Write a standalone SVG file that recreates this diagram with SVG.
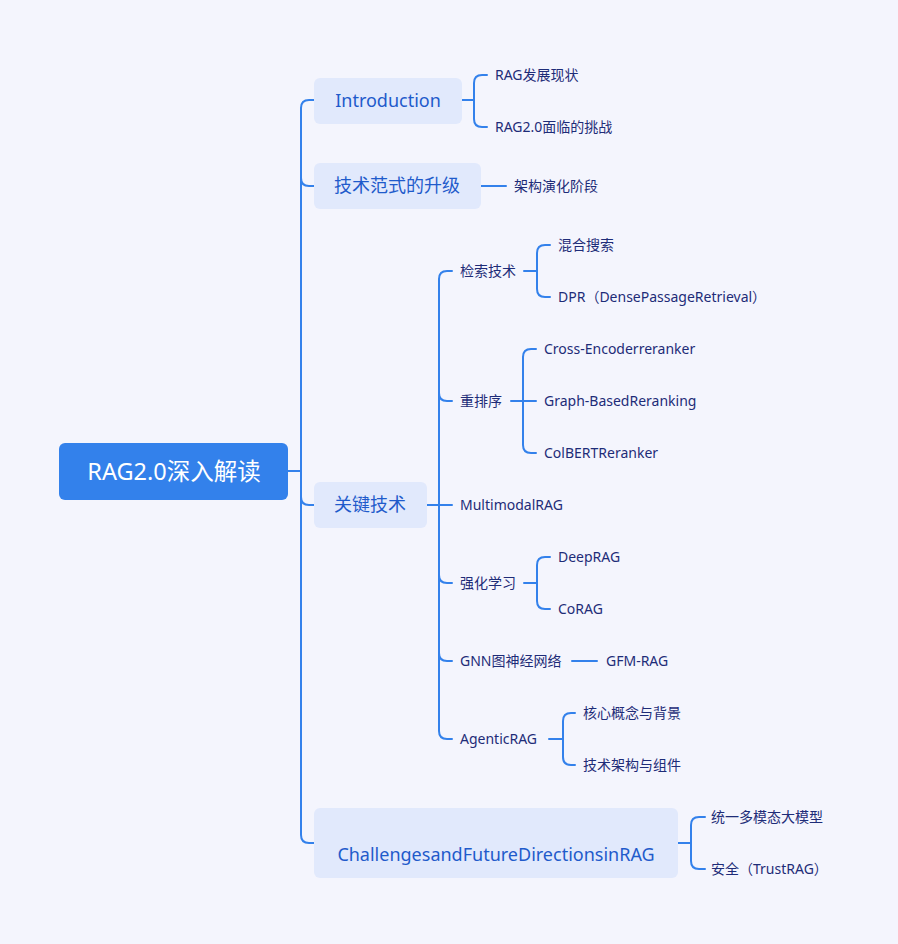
<svg xmlns="http://www.w3.org/2000/svg" width="898" height="944" viewBox="0 0 898 944">
<style>
.bg{fill:#F4F5FD}
.root{fill:#3381EB}
.rt{fill:#FFFFFF;font-family:"Noto Sans","Noto Sans CJK SC",sans-serif;font-size:23.5px}
.l1{fill:#E1E9FC}
.t1{fill:#1F5BCB;font-family:"Noto Sans","Noto Sans CJK SC",sans-serif;font-size:18px}
.t2{fill:#1E2C78;font-family:"Noto Sans","Noto Sans CJK SC",sans-serif;font-size:14px}
.c{fill:none;stroke:#3381EB;stroke-width:2;stroke-linecap:round;stroke-linejoin:round}
</style>
<rect class="bg" x="0" y="0" width="898" height="944"/>
<g id="connectors">
<path class="c" d="M288,471 H301"/>
<path class="c" d="M314,100 H309 Q301,100 301,108 V835 Q301,843 309,843 H314"/>
<path class="c" d="M301,178 Q301,186 309,186 H314"/>
<path class="c" d="M301,497 Q301,505 309,505 H314"/>
<path class="c" d="M462,100 H474"/>
<path class="c" d="M487,75 H482 Q474,75 474,83 V119 Q474,127 482,127 H487"/>
<path class="c" d="M481,186 H506"/>
<path class="c" d="M427,505 H452"/>
<path class="c" d="M452,271 H447 Q439,271 439,279 V731 Q439,739 447,739 H452"/>
<path class="c" d="M439,393 Q439,401 447,401 H452"/>
<path class="c" d="M439,575 Q439,583 447,583 H452"/>
<path class="c" d="M439,653 Q439,661 447,661 H452"/>
<path class="c" d="M524,271 H537"/>
<path class="c" d="M550,245 H545 Q537,245 537,253 V289 Q537,297 545,297 H550"/>
<path class="c" d="M511,401 H536"/>
<path class="c" d="M536,349 H531 Q523,349 523,357 V445 Q523,453 531,453 H536"/>
<path class="c" d="M524,583 H537"/>
<path class="c" d="M550,557 H545 Q537,557 537,565 V601 Q537,609 545,609 H550"/>
<path class="c" d="M572,661 H597"/>
<path class="c" d="M549,739 H563"/>
<path class="c" d="M575,713 H571 Q563,713 563,721 V757 Q563,765 571,765 H575"/>
<path class="c" d="M678,843 H691"/>
<path class="c" d="M705,817 H699 Q691,817 691,825 V861 Q691,869 699,869 H705"/>
</g>
<g id="root">
<rect class="root" x="59" y="443" width="229" height="57" rx="6"/>
<text class="rt" x="174" y="471" text-anchor="middle" dominant-baseline="central">RAG2.0深入解读</text>
</g>
<g id="n-intro">
<rect class="l1" x="314" y="78" width="148" height="46" rx="6"/>
<text class="t1" x="388" y="100" text-anchor="middle" dominant-baseline="central">Introduction</text>
</g>
<g id="n-intro-1"><text class="t2" x="495" y="74" dominant-baseline="central">RAG发展现状</text></g>
<g id="n-intro-2"><text class="t2" x="495" y="126" dominant-baseline="central">RAG2.0面临的挑战</text></g>
<g id="n-paradigm">
<rect class="l1" x="314" y="163" width="167" height="46" rx="6"/>
<text class="t1" x="397" y="185" text-anchor="middle" dominant-baseline="central">技术范式的升级</text>
</g>
<g id="n-paradigm-1"><text class="t2" x="514" y="185" dominant-baseline="central">架构演化阶段</text></g>
<g id="n-key">
<rect class="l1" x="314" y="482" width="113" height="46" rx="6"/>
<text class="t1" x="370" y="504" text-anchor="middle" dominant-baseline="central">关键技术</text>
</g>
<g id="n-retrieval"><text class="t2" x="460" y="270" dominant-baseline="central">检索技术</text></g>
<g id="n-retrieval-1"><text class="t2" x="558" y="244" dominant-baseline="central">混合搜索</text></g>
<g id="n-retrieval-2"><text class="t2" x="558" y="296" dominant-baseline="central">DPR（DensePassageRetrieval）</text></g>
<g id="n-rerank"><text class="t2" x="460" y="400" dominant-baseline="central">重排序</text></g>
<g id="n-rerank-1"><text class="t2" x="544" y="348" dominant-baseline="central">Cross-Encoderreranker</text></g>
<g id="n-rerank-2"><text class="t2" x="544" y="400" dominant-baseline="central">Graph-BasedReranking</text></g>
<g id="n-rerank-3"><text class="t2" x="544" y="452" dominant-baseline="central">ColBERTReranker</text></g>
<g id="n-multimodal"><text class="t2" x="460" y="504" dominant-baseline="central">MultimodalRAG</text></g>
<g id="n-rl"><text class="t2" x="460" y="582" dominant-baseline="central">强化学习</text></g>
<g id="n-rl-1"><text class="t2" x="558" y="556" dominant-baseline="central">DeepRAG</text></g>
<g id="n-rl-2"><text class="t2" x="558" y="608" dominant-baseline="central">CoRAG</text></g>
<g id="n-gnn"><text class="t2" x="460" y="660" dominant-baseline="central">GNN图神经网络</text></g>
<g id="n-gnn-1"><text class="t2" x="606" y="660" dominant-baseline="central">GFM-RAG</text></g>
<g id="n-agentic"><text class="t2" x="460" y="738" dominant-baseline="central">AgenticRAG</text></g>
<g id="n-agentic-1"><text class="t2" x="583" y="712" dominant-baseline="central">核心概念与背景</text></g>
<g id="n-agentic-2"><text class="t2" x="583" y="764" dominant-baseline="central">技术架构与组件</text></g>
<g id="n-challenges">
<rect class="l1" x="314" y="808" width="364" height="70" rx="6"/>
<text class="t1" x="496" y="854" text-anchor="middle" dominant-baseline="central">ChallengesandFutureDirectionsinRAG</text>
</g>
<g id="n-challenges-1"><text class="t2" x="711" y="816" dominant-baseline="central">统一多模态大模型</text></g>
<g id="n-challenges-2"><text class="t2" x="711" y="868" dominant-baseline="central">安全（TrustRAG）</text></g>
</svg>
